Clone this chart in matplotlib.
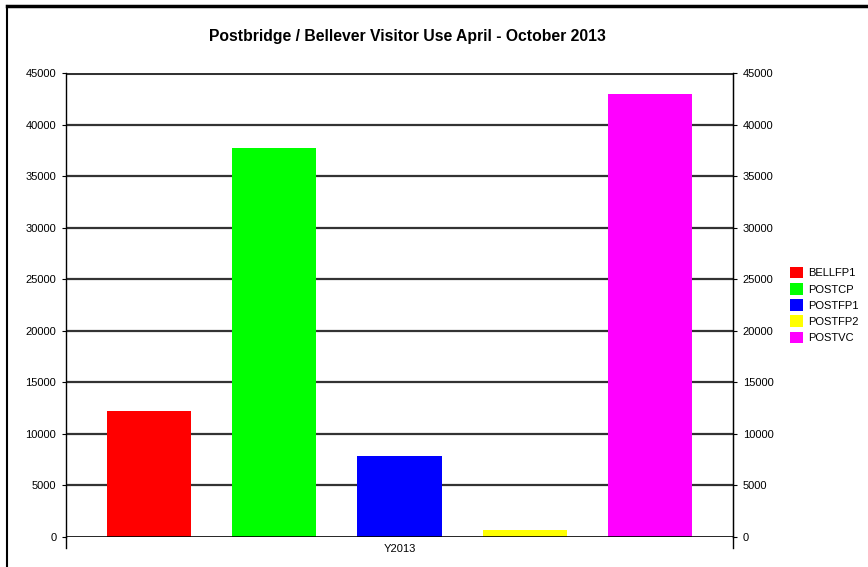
import matplotlib.pyplot as plt
from matplotlib.lines import Line2D
from matplotlib.patches import Patch

plt.rcParams.update({
    "font.family": ["Liberation Sans", "DejaVu Sans"],
    "font.size": 8, "xtick.labelsize": 8, "ytick.labelsize": 8,
})

sites = ["BELLFP1", "POSTCP", "POSTFP1", "POSTFP2", "POSTVC"]
visits = [12200, 37700, 7900, 650, 43000]
colors = ["#FF0000", "#00FF00", "#0000FF", "#FFFF00", "#FF00FF"]
yticks = list(range(0, 45001, 5000))
group_label = "Y2013"

fig = plt.figure(figsize=(8.68, 5.67), dpi=100)
ax = fig.add_axes([66 / 868, 1 - 537 / 567, 667 / 868, 464 / 567])

pos = list(range(len(sites)))
ax.bar(pos, visits, width=0.672, color=colors, zorder=3)
ax.set_xlim(-0.664, len(sites) - 1 + 0.664)
ax.set_ylim(0, 45000)

ax.set_yticks(yticks)
for v in yticks[1:]:
    ax.axhline(v, color="#333333", lw=1.6 if v < 45000 else 2.2, zorder=1)

ax.set_xticks([(len(sites) - 1) / 2])
ax.set_xticklabels([group_label])
ax.tick_params(axis="x", length=0, pad=5)
ax.tick_params(axis="y", length=3, width=0.8, pad=4)

for s in ["top", "bottom"]:
    ax.spines[s].set_visible(False)
ax.spines["left"].set_linewidth(1.0)
ax.spines["right"].set_linewidth(1.0)
ax.axhline(0, color="black", lw=1.2, zorder=4)

ax2 = ax.twinx()
ax2.set_ylim(0, 45000)
ax2.set_yticks(yticks)
ax2.tick_params(axis="y", length=3, width=0.8, pad=4)
for s in ["top", "bottom", "left"]:
    ax2.spines[s].set_visible(False)

# end ticks below the category axis
x0, x1 = ax.get_xlim()
for xe in (x0, x1):
    ax.plot([xe, xe], [0, -1050], color="black", lw=1.0, clip_on=False, zorder=5)

fig.text(407 / 868, 1 - 37 / 567, "Postbridge / Bellever Visitor Use April - October 2013",
         ha="center", va="center", fontsize=11.3, fontweight="bold")

handles = [Patch(facecolor=c, edgecolor="none") for c in colors]
fig.legend(handles, sites, loc="center left", bbox_to_anchor=(780 / 868, 1 - 305 / 567),
           frameon=False, handlelength=1.2, handleheight=1.2, handletextpad=0.4,
           labelspacing=0.42, fontsize=8)

# screenshot frame (top and left)
fig.add_artist(Line2D([7 / 868, 1], [1 - 6 / 567, 1 - 6 / 567], color="black", lw=2.5))
fig.add_artist(Line2D([7 / 868, 7 / 868], [0, 1 - 6 / 567], color="black", lw=1.5))

fig.savefig("out.png", dpi=100)
